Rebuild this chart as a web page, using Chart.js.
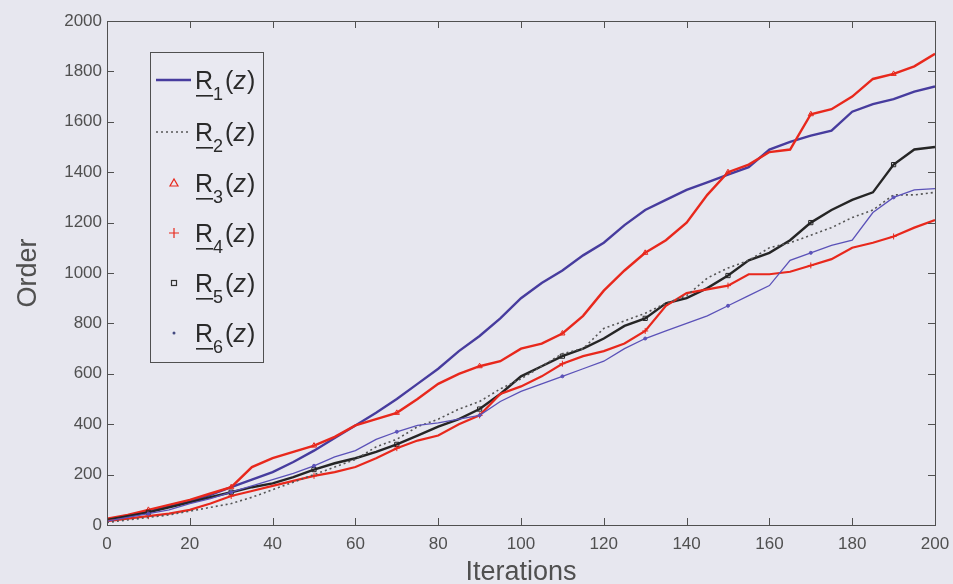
<!DOCTYPE html>
<html><head><meta charset="utf-8">
<script src="https://cdn.jsdelivr.net/npm/chart.js@4.4.1/dist/chart.umd.min.js"></script>
<style>html,body{margin:0;padding:0;background:#e7e7ef;}canvas{display:block}</style>
</head><body>
<canvas id="c" width="953" height="584"></canvas>
<script>
const iterations = [0,5,10,15,20,25,30,35,40,45,50,55,60,65,70,75,80,85,90,95,100,105,110,115,120,125,130,135,140,145,150,155,160,165,170,175,180,185,190,195,200];
const R1 = [20,35,55,75,93,120,150,180,210,250,295,345,395,445,500,560,620,690,750,820,900,960,1010,1070,1120,1190,1250,1290,1330,1360,1390,1420,1490,1520,1545,1565,1640,1670,1690,1720,1740];
const R2 = [10,20,30,40,55,70,85,110,140,170,200,230,260,310,340,390,420,460,490,540,580,630,680,700,780,810,840,880,910,980,1020,1050,1100,1120,1150,1180,1220,1250,1310,1310,1320];
const R3 = [25,40,60,80,100,125,150,230,265,290,315,350,395,420,445,500,560,600,630,650,700,720,760,830,930,1010,1080,1130,1200,1310,1400,1430,1480,1490,1630,1650,1700,1770,1790,1820,1870];
const R4 = [15,25,35,45,60,85,115,135,155,175,195,210,230,265,305,335,355,400,435,520,550,590,640,670,690,720,770,870,920,935,950,995,995,1005,1030,1055,1100,1120,1145,1180,1210];
const R5 = [20,35,50,70,90,110,130,150,165,190,220,245,265,290,320,355,390,420,460,520,590,630,670,700,740,790,820,880,900,940,990,1050,1080,1130,1200,1250,1290,1320,1430,1490,1500];
const R6 = [15,30,45,60,85,105,130,155,180,205,235,270,295,340,370,395,405,420,435,490,530,560,590,620,650,700,740,770,800,830,870,910,950,1050,1080,1110,1130,1240,1300,1330,1335];
const seriesSubscripts = ['1','2','3','4','5','6'];
const xTicks = [0,20,40,60,80,100,120,140,160,180,200];
const yTicks = [0,200,400,600,800,1000,1200,1400,1600,1800,2000];
const xTitle = 'Iterations';
const yTitle = 'Order';

const BLUE = '#473c9e', RED = '#e8281c', BLACK = '#252525', THIN = '#5b52b8', DOT = '#555555';
const FONT = '"Liberation Sans", Arial, Helvetica, sans-serif';

function pts(arr){ return iterations.map((x,i)=>({x:x,y:arr[i]})); }

const seriesDefs = [
  {data:R6, color:THIN, width:1.3, dash:[], marker:'circle', r:1.5, fillPt:true},
  {data:R2, color:DOT, width:1.6, dash:[2,3], marker:false},
  {data:R4, color:RED, width:2.2, dash:[], marker:'cross', r:3},
  {data:R5, color:BLACK, width:2.4, dash:[], marker:'rect', r:3},
  {data:R3, color:RED, width:2.4, dash:[], marker:'triangle', r:3},
  {data:R1, color:BLUE, width:2.4, dash:[], marker:false}
];

const datasets = seriesDefs.map(s=>({
  data: pts(s.data),
  borderColor: s.color,
  backgroundColor: 'rgba(0,0,0,0)',
  borderWidth: s.width,
  borderDash: s.dash,
  pointStyle: s.marker || 'circle',
  pointRadius: s.marker ? (ctx)=> (ctx.dataIndex % 4 === 2 ? s.r : 0) : 0,
  pointBackgroundColor: s.fillPt ? s.color : 'rgba(0,0,0,0)',
  pointBorderColor: s.color,
  pointBorderWidth: 1,
  tension: 0,
  fill: false
}));

const bgPlugin = {
  id:'bg',
  beforeDraw(chart){
    const c = chart.ctx; c.save(); c.fillStyle='#e7e7ef'; c.fillRect(0,0,chart.width,chart.height); c.restore();
  }
};

const framePlugin = {
  id:'frame',
  afterDatasetsDraw(chart){
    const c = chart.ctx, a = chart.chartArea, x = chart.scales.x, y = chart.scales.y;
    c.save();
    c.strokeStyle = '#505050'; c.lineWidth = 1;
    c.strokeRect(Math.round(a.left)+0.5, Math.round(a.top)+0.5, Math.round(a.right-a.left), Math.round(a.bottom-a.top));
    const L = 7;
    c.beginPath();
    xTicks.forEach(v=>{
      const p = Math.round(x.getPixelForValue(v))+0.5;
      c.moveTo(p, a.bottom); c.lineTo(p, a.bottom-L);
      c.moveTo(p, a.top); c.lineTo(p, a.top+L);
    });
    yTicks.forEach(v=>{
      const p = Math.round(y.getPixelForValue(v))+0.5;
      c.moveTo(a.left, p); c.lineTo(a.left+L, p);
      c.moveTo(a.right, p); c.lineTo(a.right-L, p);
    });
    c.stroke();
    c.restore();
  }
};

const legendPlugin = {
  id:'mlegend',
  afterDraw(chart){
    const c = chart.ctx;
    c.save();
    const bx=150, by=52, bw=113, bh=310;
    c.fillStyle='#e9e9f1'; c.fillRect(bx,by,bw,bh);
    c.strokeStyle='#505050'; c.lineWidth=1; c.strokeRect(bx+0.5,by+0.5,bw,bh);
    const rowY = [80,132,183,233,283,333];
    const symX = 174;
    seriesSubscripts.forEach((sub,i)=>{
      const yy = rowY[i];
      c.save();
      if(i===0){ c.strokeStyle=BLUE; c.lineWidth=2.4; c.beginPath(); c.moveTo(156,yy); c.lineTo(191,yy); c.stroke(); }
      else if(i===1){ c.strokeStyle=DOT; c.lineWidth=1.4; c.setLineDash([2,3]); c.beginPath(); c.moveTo(156,yy); c.lineTo(191,yy); c.stroke(); }
      else if(i===2){ c.strokeStyle=RED; c.lineWidth=1.2; c.beginPath(); c.moveTo(symX-4,yy+3); c.lineTo(symX+4,yy+3); c.lineTo(symX,yy-4); c.closePath(); c.stroke(); }
      else if(i===3){ c.strokeStyle=RED; c.lineWidth=1.2; c.beginPath(); c.moveTo(symX-5,yy); c.lineTo(symX+5,yy); c.moveTo(symX,yy-5); c.lineTo(symX,yy+5); c.stroke(); }
      else if(i===4){ c.strokeStyle='#333'; c.lineWidth=1.2; c.strokeRect(symX-2.5,yy-2.5,5,5); }
      else { c.fillStyle='#444a80'; c.beginPath(); c.arc(symX,yy,1.5,0,Math.PI*2); c.fill(); }
      c.restore();
      c.fillStyle='#2a2a2a';
      c.textBaseline='alphabetic'; c.textAlign='left';
      c.font = '25px ' + FONT;
      const rx = 195, base = yy+9;
      c.fillText('R', rx, base);
      const rw = c.measureText('R').width;
      c.fillRect(rx+1, base+6, rw-1, 1.6);
      c.font = '18px ' + FONT;
      c.fillText(sub, rx+rw, base+11);
      const sw = c.measureText(sub).width;
      let tx = rx+rw+sw+2;
      c.font = '25px ' + FONT;
      c.fillText('(', tx, base); tx += c.measureText('(').width;
      c.font = 'italic 25px ' + FONT;
      c.fillText('z', tx, base); tx += c.measureText('z').width + 1;
      c.font = '25px ' + FONT;
      c.fillText(')', tx, base);
    });
    c.restore();
  }
};

new Chart(document.getElementById('c'), {
  type:'line',
  data:{ datasets },
  options:{
    responsive:false,
    animation:false,
    layout:{ padding:{ top:21, right:18, left:0, bottom:0 } },
    plugins:{ legend:{display:false}, tooltip:{enabled:false} },
    scales:{
      x:{
        type:'linear', min:0, max:200,
        afterBuildTicks(s){ s.ticks = xTicks.map(v=>({value:v})); },
        afterFit(s){ s.height = 59; s.paddingLeft = 0; s.paddingRight = 0; },
        grid:{ display:true, drawOnChartArea:false, drawTicks:false },
        border:{ display:false },
        ticks:{ padding:9, color:'#505050', font:{ family:FONT, size:17 }, maxRotation:0, autoSkip:false, callback:(v)=>String(v) },
        title:{ display:true, text:xTitle, color:'#505050', font:{ family:FONT, size:27, lineHeight:0.85 }, padding:{top:0,bottom:0} }
      },
      y:{
        type:'linear', min:0, max:2000,
        afterBuildTicks(s){ s.ticks = yTicks.map(v=>({value:v})); },
        afterFit(s){ s.width = 107; s.paddingTop = 0; s.paddingBottom = 0; },
        grid:{ display:true, drawOnChartArea:false, drawTicks:false },
        border:{ display:false },
        ticks:{ padding:5, color:'#505050', font:{ family:FONT, size:17 }, autoSkip:false, callback:(v)=>String(v) },
        title:{ display:true, text:yTitle, color:'#505050', font:{ family:FONT, size:27, lineHeight:1.2 }, padding:{top:12,bottom:0} }
      }
    }
  },
  plugins:[bgPlugin, framePlugin, legendPlugin]
});
</script>
</body></html>
